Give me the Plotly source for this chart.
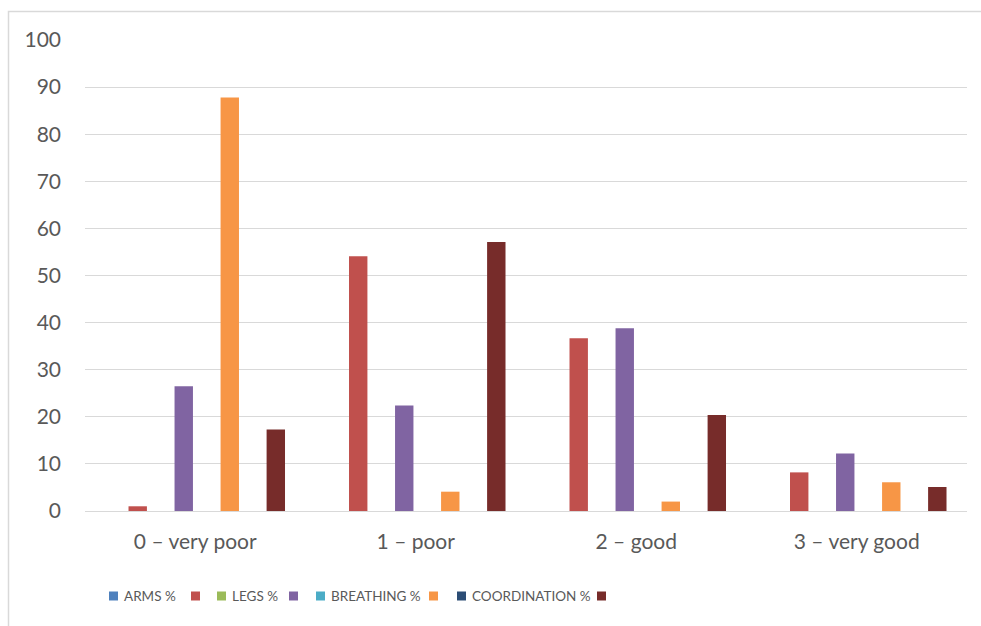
import plotly.graph_objects as go

# Self-assessment categories (x axis)
categories = ["0 – very poor", "1 – poor", "2 – good", "3 – very good"]

# Series names as shown in the legend (every second series is unnamed)
series_names = ["ARMS %", "", "LEGS %", "", "BREATHING %", "", "COORDINATION %", ""]
series_colors = ["#4F81BD", "#C0504D", "#9BBB59", "#8064A2",
                 "#4BACC6", "#F79646", "#2C4D75", "#772C2A"]

# Percent values per series (named series carry no values)
arms = [None, None, None, None]
arms_pct = [1.0, 54.1, 36.7, 8.2]
legs = [None, None, None, None]
legs_pct = [26.5, 22.4, 38.8, 12.2]
breathing = [None, None, None, None]
breathing_pct = [87.8, 4.1, 2.0, 6.1]
coordination = [None, None, None, None]
coordination_pct = [17.3, 57.1, 20.4, 5.1]

series_values = [arms, arms_pct, legs, legs_pct,
                 breathing, breathing_pct, coordination, coordination_pct]

y_ticks = [0, 10, 20, 30, 40, 50, 60, 70, 80, 90, 100]

FONT = "Lato"
TEXT = "#595959"
GRID = "#D9D9D9"

fig = go.Figure()
for name, color, vals in zip(series_names, series_colors, series_values):
    fig.add_trace(go.Bar(
        x=categories, y=vals, name=name,
        marker=dict(color=color, line=dict(width=0)),
        showlegend=False,
    ))

W, H = 981, 626
L, R, T, B = 85, 14, 40, 115
pw, ph = W - L - R, H - T - B

def px_x(p):
    return (p - L) / pw

def px_y(p):
    return (H - B - p) / ph

# Legend row: swatch left edges in pixels, row centre, swatch size
legend_x = [109, 191, 217, 289, 316, 429, 457, 597]
legend_y = 596
sw = 9

shapes = [dict(
    type="rect", xref="paper", yref="paper",
    x0=px_x(8.5), x1=px_x(990), y0=px_y(640), y1=px_y(11.5),
    line=dict(color=GRID, width=1.5), fillcolor="rgba(0,0,0,0)",
    layer="below",
)]
annotations = []
for name, color, lx in zip(series_names, series_colors, legend_x):
    shapes.append(dict(
        type="rect", xref="paper", yref="paper",
        x0=px_x(lx), x1=px_x(lx + sw),
        y0=px_y(legend_y + sw / 2), y1=px_y(legend_y - sw / 2),
        line=dict(width=0), fillcolor=color,
    ))
    if name:
        annotations.append(dict(
            text=name, xref="paper", yref="paper",
            x=px_x(lx + sw + 5), y=px_y(legend_y),
            xanchor="left", yanchor="middle", showarrow=False,
            borderpad=0,
            font=dict(family=FONT, size=13.5, color=TEXT),
        ))

fig.update_layout(
    width=W, height=H,
    margin=dict(l=L, r=R, t=T, b=B, pad=0),
    paper_bgcolor="white", plot_bgcolor="white",
    barmode="group", bargap=0.165, bargroupgap=0.2,
    font=dict(family=FONT, color=TEXT, size=18),
    showlegend=False,
    xaxis=dict(
        showgrid=False, showline=False, zeroline=False,
        ticks="", tickfont=dict(size=21, color=TEXT),
        ticklabelstandoff=16,
    ),
    yaxis=dict(
        range=[0, 100], tickvals=y_ticks,
        showgrid=True, gridcolor=GRID, gridwidth=1.3,
        zeroline=True, zerolinecolor=GRID, zerolinewidth=1.3,
        showline=False, ticks="", tickfont=dict(size=21, color=TEXT),
        ticklabelstandoff=23,
    ),
    shapes=shapes,
    annotations=annotations,
)

fig.write_html("out.html")
